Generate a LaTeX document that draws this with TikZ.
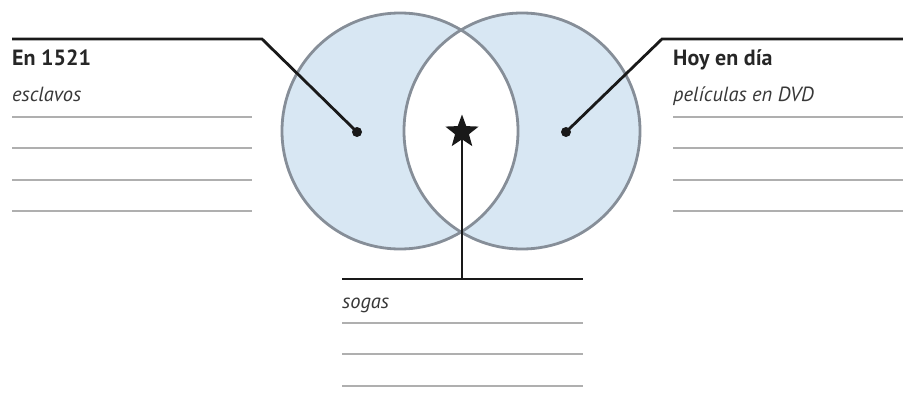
\documentclass[tikz,border=0pt]{standalone}
\usepackage{fontspec}
\setmainfont{PT Sans}
\usetikzlibrary{shapes.geometric}
\definecolor{venn}{RGB}{216,231,243}
\definecolor{ring}{RGB}{134,142,152}
\definecolor{rule}{RGB}{175,175,175}
\tikzset{
  x=1pt,y=-1pt,
  heading/.style={anchor=base west,inner sep=0pt,font=\fontsize{22}{24}\selectfont\bfseries,text=black!85},
  entry/.style={anchor=base west,inner sep=0pt,font=\fontsize{20.5}{22}\selectfont\itshape,text=black!78},
  writeline/.style={draw=rule,line width=1.3pt},
  lead/.style={draw=black!90,line width=2.8pt},
  dotmark/.style={circle,fill=black!90,inner sep=0pt,minimum size=10pt},
  starmark/.style={star,star points=5,star point ratio=2.4,fill=black!90,inner sep=0pt,minimum size=35pt}
}
\begin{document}
\begin{tikzpicture}
\useasboundingbox (0,0) rectangle (903,415);
% circles
\fill[venn,even odd rule] (400,131) circle (118) (522,131) circle (118);
\draw[ring,line width=2.8pt] (400,131) circle (118);
\draw[ring,line width=2.8pt] (522,131) circle (118);
% markers
\node[dotmark] (ldot) at (357,132) {};
\node[dotmark] (rdot) at (566,132) {};
\node[starmark] (star) at (462,132) {};
% left panel
\coordinate (lA) at (12,39);
\coordinate (lB) at (262,39);
\draw[lead] (lA) -- (lB) -- (ldot.center);
\node[heading] (lh) at (12,65) {En 1521};
\node[entry] (lt) at (12,101) {esclavos};
\foreach \yy in {117,148,180,211} \draw[writeline] (12,\yy) -- (252,\yy);
% right panel
\coordinate (rA) at (903,39);
\coordinate (rB) at (662,39);
\draw[lead] (rA) -- (rB) -- (rdot.center);
\node[heading] (rh) at (673,65) {Hoy en día};
\node[entry] (rt) at (673,101) {películas en DVD};
\foreach \yy in {117,148,180,211} \draw[writeline] (673,\yy) -- (903,\yy);
% bottom panel
\coordinate (bA) at (342,279);
\coordinate (bB) at (583,279);
\coordinate (bM) at (462,279);
\draw[lead] (bA) -- (bB);
\draw[lead] (bM) -- (star.center);
\node[entry] (bt) at (342,308) {sogas};
\foreach \yy in {323,354,386} \draw[writeline] (342,\yy) -- (583,\yy);
\end{tikzpicture}
\end{document}
